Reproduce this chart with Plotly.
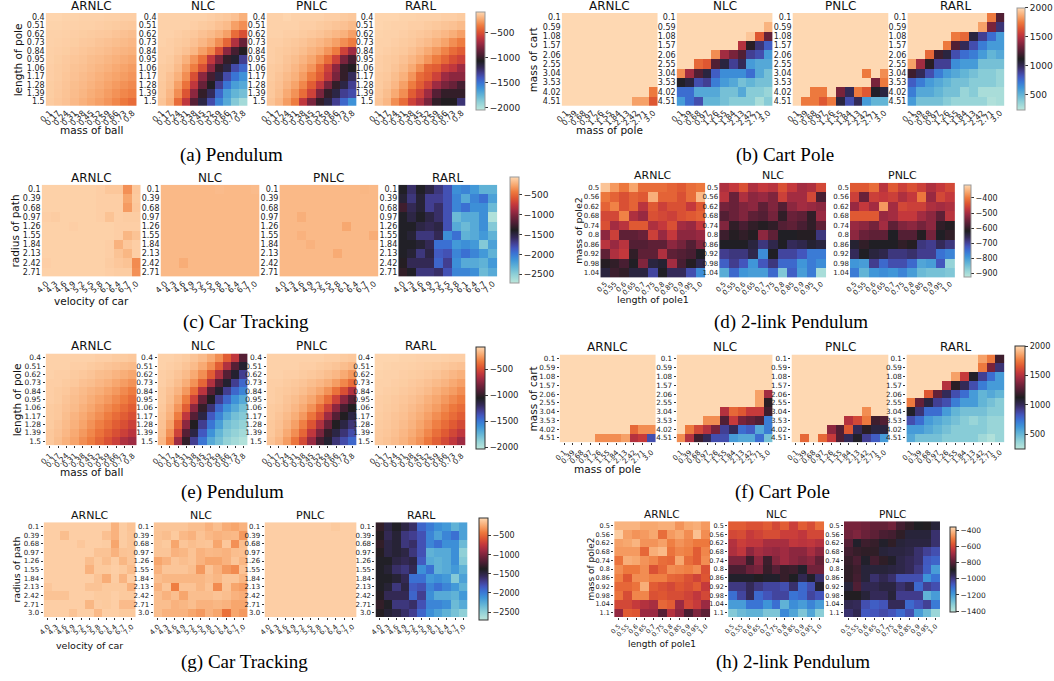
import plotly.graph_objects as go

W, H = 1054, 681

# ---------------- tick labels ----------------
BALL_MASS = ["0.1", "0.17", "0.24", "0.31", "0.38", "0.45", "0.52", "0.59", "0.66", "0.73", "0.8"]
POLE_LEN = ["0.4", "0.51", "0.62", "0.73", "0.84", "0.95", "1.06", "1.17", "1.28", "1.39", "1.5"]
POLE_MASS = ["0.1", "0.39", "0.68", "0.97", "1.26", "1.55", "1.84", "2.13", "2.42", "2.71", "3.0"]
CART_MASS = ["0.1", "0.59", "1.08", "1.57", "2.06", "2.55", "3.04", "3.53", "4.02", "4.51"]
CAR_VEL = ["4.0", "4.3", "4.6", "4.9", "5.2", "5.5", "5.8", "6.1", "6.4", "6.7", "7.0"]
PATH_RAD = ["0.1", "0.39", "0.68", "0.97", "1.26", "1.55", "1.84", "2.13", "2.42", "2.71"]
PATH_RAD_G = PATH_RAD + ["3.0"]
POLE1_LEN = ["0.5", "0.55", "0.6", "0.65", "0.7", "0.75", "0.8", "0.85", "0.9", "0.95", "1.0"]
POLE2_MASS = ["0.5", "0.56", "0.62", "0.68", "0.74", "0.8", "0.86", "0.92", "0.98", "1.04"]
POLE2_MASS_H = POLE2_MASS + ["1.1"]

# ---------------- (a) Pendulum ----------------
A_ARNLC = [
    [-90, -90, -95, -95, -100, -100, -100, -105, -105, -110, -110],
    [-95, -95, -100, -100, -105, -105, -110, -115, -120, -125, -130],
    [-100, -100, -105, -110, -115, -120, -125, -130, -140, -150, -160],
    [-100, -105, -110, -115, -125, -130, -140, -150, -160, -170, -180],
    [-105, -110, -115, -125, -135, -145, -155, -165, -180, -190, -200],
    [-105, -115, -125, -135, -145, -160, -170, -185, -200, -215, -230],
    [-110, -120, -130, -145, -155, -170, -185, -200, -220, -240, -260],
    [-110, -120, -135, -150, -165, -180, -200, -220, -240, -260, -280],
    [-115, -125, -140, -160, -175, -195, -215, -240, -265, -290, -310],
    [-115, -130, -145, -165, -185, -210, -230, -260, -290, -320, -340],
    [-120, -135, -150, -175, -200, -225, -250, -280, -320, -360, -400],
]
A_NLC = [
    [-100, -100, -100, -100, -100, -100, -110, -120, -130, -150, -200],
    [-100, -100, -100, -100, -110, -120, -130, -150, -170, -250, -300],
    [-100, -100, -110, -120, -130, -150, -170, -200, -250, -400, -500],
    [-100, -110, -120, -130, -150, -180, -220, -300, -420, -650, -850],
    [-110, -110, -130, -150, -180, -250, -320, -500, -750, -950, -1050],
    [-110, -120, -150, -200, -280, -380, -600, -800, -1000, -1100, -1300],
    [-120, -130, -170, -250, -350, -500, -750, -1000, -1150, -1350, -1450],
    [-120, -150, -200, -300, -500, -750, -950, -1150, -1350, -1500, -1600],
    [-130, -160, -250, -380, -600, -850, -1050, -1300, -1500, -1650, -1700],
    [-130, -180, -300, -480, -750, -1000, -1200, -1450, -1650, -1750, -1800],
    [-140, -200, -400, -600, -900, -1150, -1350, -1550, -1700, -1850, -1950],
]
A_PNLC = [
    [-100, -100, -90, -100, -100, -100, -100, -110, -110, -120, -130],
    [-100, -100, -100, -100, -110, -110, -120, -130, -140, -150, -170],
    [-100, -100, -110, -110, -120, -130, -140, -160, -180, -200, -250],
    [-110, -110, -120, -130, -140, -160, -180, -210, -250, -300, -350],
    [-110, -120, -130, -140, -160, -190, -220, -280, -350, -550, -700],
    [-110, -120, -140, -160, -190, -230, -300, -400, -550, -800, -950],
    [-120, -130, -150, -180, -220, -280, -400, -550, -750, -1000, -1050],
    [-120, -140, -170, -200, -260, -350, -450, -600, -800, -1000, -1200],
    [-130, -150, -190, -240, -320, -450, -600, -800, -1000, -1150, -1300],
    [-130, -160, -220, -290, -400, -550, -800, -1000, -1150, -1300, -1350],
    [-140, -180, -260, -350, -600, -800, -1000, -1150, -1300, -1450, -1600],
]
A_RARL = [
    [-90, -90, -90, -95, -95, -100, -100, -100, -110, -110, -120],
    [-90, -95, -100, -100, -110, -110, -120, -130, -140, -150, -170],
    [-95, -100, -100, -110, -120, -130, -140, -160, -180, -210, -250],
    [-100, -100, -110, -120, -130, -150, -170, -200, -240, -300, -350],
    [-100, -110, -120, -130, -150, -180, -220, -270, -330, -400, -450],
    [-110, -120, -130, -150, -180, -220, -280, -350, -420, -500, -550],
    [-110, -120, -140, -170, -220, -300, -420, -450, -550, -600, -700],
    [-120, -130, -160, -200, -280, -400, -450, -550, -700, -750, -750],
    [-120, -140, -180, -250, -350, -450, -550, -700, -800, -850, -950],
    [-130, -160, -220, -300, -450, -550, -700, -900, -1000, -1000, -1000],
    [-140, -180, -300, -400, -550, -650, -800, -1000, -1050, -1050, -1250],
]

# ---------------- (b) Cart Pole ----------------
B_ARNLC = [
    [2000] * 11, [2000] * 11, [2000] * 11, [2000] * 11, [2000] * 11,
    [2000] * 11, [2000] * 11, [2000] * 11,
    [2000, 2000, 2000, 2000, 2000, 2000, 2000, 2000, 2000, 2000, 1750],
    [2000, 2000, 2000, 2000, 2000, 2000, 2000, 2000, 1850, 1850, 1650],
]
B_NLC = [
    [2000, 2000, 2000, 2000, 2000, 2000, 2000, 2000, 2000, 2000, 2000],
    [2000, 2000, 2000, 2000, 2000, 2000, 2000, 2000, 2000, 2000, 1900],
    [2000, 2000, 2000, 2000, 2000, 2000, 2000, 2000, 1950, 1650, 1300],
    [2000, 2000, 2000, 2000, 2000, 2000, 2000, 1500, 1150, 950, 800],
    [2000, 2000, 2000, 2000, 1800, 1450, 1350, 1250, 900, 850, 600],
    [2000, 2000, 1700, 1650, 1250, 1050, 900, 1000, 600, 550, 550],
    [1800, 1450, 1250, 1050, 800, 650, 650, 650, 750, 550, 450],
    [1100, 1050, 850, 900, 700, 600, 550, 450, 500, 450, 450],
    [750, 750, 550, 550, 550, 450, 450, 550, 400, 400, 350],
    [600, 750, 850, 500, 500, 450, 400, 400, 400, 300, 400],
]
B_PNLC = [
    [2000] * 11, [2000] * 11, [2000] * 11, [2000] * 11, [2000] * 11, [2000] * 11,
    [2000, 2000, 2000, 2000, 2000, 2000, 2000, 2000, 1750, 2000, 1800],
    [2000, 2000, 2000, 2000, 2000, 2000, 2000, 2000, 2000, 1350, 1750],
    [2000, 2000, 1750, 1750, 2000, 1350, 1000, 1750, 1650, 1100, 1050],
    [2000, 1750, 1750, 1650, 1750, 1050, 850, 1000, 600, 500, 500],
]
B_RARL = [
    [2000, 2000, 2000, 2000, 2000, 2000, 2000, 2000, 2000, 1750, 1250],
    [2000, 2000, 2000, 2000, 2000, 2000, 2000, 2000, 1850, 1350, 950],
    [2000, 2000, 2000, 2000, 2000, 1750, 1700, 1050, 900, 750, 600],
    [2000, 2000, 2000, 2000, 1750, 1250, 1000, 850, 700, 600, 600],
    [2000, 2000, 1700, 1200, 1050, 850, 750, 700, 600, 500, 550],
    [1850, 1450, 1150, 900, 900, 650, 600, 600, 450, 450, 450],
    [1200, 1000, 850, 700, 600, 550, 500, 450, 400, 400, 350],
    [800, 700, 600, 550, 500, 450, 450, 400, 400, 400, 350],
    [700, 550, 550, 500, 450, 450, 350, 400, 300, 300, 300],
    [600, 450, 450, 450, 400, 350, 350, 350, 350, 280, 300],
]

# ---------------- (c) Car Tracking ----------------
C_ARNLC = [
    [-70, -70, -70, -70, -70, -70, -80, -110, -110, -330, -110],
    [-70, -70, -70, -70, -70, -70, -80, -80, -80, -250, -100],
    [-70, -70, -70, -70, -70, -70, -80, -80, -80, -290, -110],
    [-80, -90, -70, -70, -70, -70, -80, -130, -80, -90, -90],
    [-70, -70, -70, -80, -70, -70, -70, -70, -80, -80, -80],
    [-70, -70, -70, -70, -70, -70, -70, -70, -80, -180, -130],
    [-70, -70, -70, -70, -70, -70, -70, -80, -200, -110, -80],
    [-70, -70, -70, -70, -70, -70, -70, -80, -130, -180, -80],
    [-80, -70, -70, -70, -70, -70, -70, -90, -110, -130, -350],
    [-70, -70, -70, -70, -70, -70, -70, -80, -90, -90, -330],
]
C_NLC = [
    [-170, -170, -170, -170, -170, -170, -160, -170, -170, -170, -160],
    [-170, -170, -170, -170, -170, -170, -170, -170, -170, -170, -170],
    [-170, -170, -170, -170, -170, -170, -170, -170, -170, -170, -170],
    [-170, -170, -170, -170, -170, -170, -170, -170, -170, -170, -170],
    [-170, -170, -170, -170, -170, -170, -170, -170, -170, -170, -170],
    [-170, -170, -170, -170, -170, -170, -170, -170, -170, -170, -170],
    [-170, -170, -170, -170, -170, -170, -170, -170, -170, -170, -170],
    [-170, -170, -170, -170, -170, -170, -170, -170, -170, -170, -170],
    [-170, -170, -220, -170, -170, -170, -170, -170, -170, -170, -170],
    [-170, -170, -170, -170, -170, -170, -170, -170, -170, -170, -170],
]
C_PNLC = [
    [-170, -170, -170, -170, -170, -170, -170, -170, -170, -180, -170],
    [-170, -170, -170, -170, -170, -170, -170, -170, -170, -170, -170],
    [-170, -170, -170, -170, -170, -170, -170, -170, -170, -170, -170],
    [-170, -170, -210, -170, -170, -170, -170, -170, -170, -170, -170],
    [-170, -170, -170, -170, -170, -170, -170, -240, -170, -170, -170],
    [-170, -170, -200, -170, -170, -170, -170, -170, -170, -170, -220],
    [-170, -170, -170, -200, -170, -170, -170, -170, -170, -170, -170],
    [-170, -170, -170, -170, -170, -170, -230, -170, -170, -170, -170],
    [-170, -170, -170, -170, -170, -170, -170, -170, -170, -170, -170],
    [-170, -170, -170, -170, -170, -170, -170, -170, -170, -170, -170],
]
C_RARL = [
    [-1400, -1600, -1400, -1500, -1650, -1800, -2100, -2050, -2150, -2300, -2300],
    [-1450, -1650, -1450, -1700, -1700, -1800, -2050, -2250, -2050, -1950, -2200],
    [-1250, -1550, -1450, -1700, -1600, -1800, -2050, -1950, -2100, -2100, -2350],
    [-1400, -1500, -1400, -1500, -1600, -1800, -2350, -2250, -2250, -2100, -2650],
    [-1400, -1400, -1500, -1550, -1500, -1800, -2250, -2350, -2250, -2100, -2450],
    [-1400, -1450, -1650, -1650, -1550, -2100, -1950, -2300, -2250, -2150, -2300],
    [-1400, -1400, -1450, -1550, -1950, -1950, -2150, -2100, -2150, -2450, -2200],
    [-1400, -1450, -1650, -1500, -1850, -1800, -2050, -1950, -2050, -2150, -2300],
    [-1350, -1550, -1550, -1550, -1900, -1700, -2100, -2250, -2250, -2300, -2150],
    [-1300, -1400, -1650, -1650, -1600, -1800, -2050, -2050, -2100, -2350, -2250],
]

# ---------------- (d) 2-link Pendulum ----------------
D_ARNLC = [
    [-330, -370, -400, -360, -410, -410, -410, -420, -430, -410, -400],
    [-400, -420, -440, -420, -430, -350, -420, -420, -440, -410, -340],
    [-420, -390, -440, -420, -480, -430, -460, -440, -440, -470, -430],
    [-450, -450, -390, -490, -510, -440, -450, -460, -440, -430, -420],
    [-440, -500, -480, -430, -430, -490, -470, -440, -500, -510, -470],
    [-520, -460, -560, -560, -550, -460, -510, -470, -520, -520, -510],
    [-480, -510, -480, -570, -570, -560, -560, -520, -540, -570, -530],
    [-560, -490, -470, -600, -560, -560, -490, -560, -570, -580, -620],
    [-610, -600, -580, -620, -530, -640, -630, -500, -580, -610, -650],
    [-640, -590, -600, -640, -640, -700, -620, -660, -660, -710, -780],
]
D_NLC = [
    [-490, -470, -440, -490, -470, -480, -440, -470, -500, -490, -450],
    [-480, -550, -490, -520, -510, -530, -460, -500, -500, -450, -580],
    [-540, -550, -530, -520, -560, -530, -570, -520, -500, -510, -520],
    [-570, -550, -530, -560, -570, -540, -600, -550, -560, -600, -510],
    [-530, -600, -580, -600, -610, -600, -570, -560, -580, -600, -560],
    [-590, -610, -600, -610, -520, -560, -620, -620, -610, -610, -680],
    [-620, -620, -620, -640, -680, -650, -620, -660, -650, -630, -640],
    [-690, -680, -680, -650, -780, -620, -700, -700, -720, -760, -760],
    [-730, -690, -720, -790, -720, -680, -740, -740, -790, -760, -780],
    [-820, -740, -790, -800, -800, -740, -860, -730, -800, -760, -900],
]
D_PNLC = [
    [-430, -430, -410, -480, -430, -460, -440, -460, -490, -470, -450],
    [-460, -550, -460, -470, -460, -490, -470, -400, -510, -450, -470],
    [-510, -470, -500, -370, -500, -450, -460, -460, -490, -500, -490],
    [-430, -430, -430, -510, -500, -470, -470, -500, -520, -560, -480],
    [-510, -520, -540, -500, -560, -530, -520, -540, -520, -600, -610],
    [-520, -550, -560, -560, -620, -570, -570, -610, -540, -620, -600],
    [-630, -600, -620, -620, -620, -600, -610, -680, -690, -660, -680],
    [-660, -620, -640, -650, -680, -680, -670, -690, -690, -750, -770],
    [-790, -800, -690, -740, -710, -710, -740, -810, -800, -720, -880],
    [-760, -830, -790, -780, -790, -770, -800, -840, -850, -850, -860],
]

# ---------------- (e) Pendulum ----------------
E_ARNLC = [
    [-100, -100, -100, -100, -100, -100, -110, -110, -120, -120, -130],
    [-100, -100, -100, -110, -110, -120, -130, -140, -150, -160, -170],
    [-100, -110, -110, -120, -130, -140, -160, -170, -190, -210, -230],
    [-110, -110, -120, -130, -150, -160, -180, -200, -230, -260, -290],
    [-110, -120, -130, -150, -170, -190, -210, -240, -270, -310, -350],
    [-110, -120, -140, -160, -180, -210, -240, -270, -310, -350, -400],
    [-120, -130, -150, -170, -200, -230, -270, -310, -350, -400, -450],
    [-120, -130, -160, -190, -220, -260, -300, -350, -400, -450, -500],
    [-120, -140, -170, -200, -240, -290, -340, -390, -450, -500, -560],
    [-130, -150, -180, -220, -270, -320, -380, -440, -500, -560, -620],
    [-130, -160, -200, -240, -300, -350, -420, -490, -560, -650, -700],
]
E_NLC = [
    [-100, -100, -110, -120, -140, -170, -220, -300, -450, -600, -900],
    [-100, -110, -120, -140, -170, -220, -300, -450, -650, -900, -1100],
    [-110, -120, -140, -170, -220, -300, -450, -650, -900, -1100, -1300],
    [-110, -130, -160, -210, -290, -420, -650, -900, -1100, -1300, -1450],
    [-120, -150, -190, -270, -400, -620, -900, -1100, -1300, -1450, -1550],
    [-120, -160, -230, -350, -550, -850, -1050, -1300, -1450, -1600, -1700],
    [-130, -180, -280, -450, -750, -1000, -1250, -1450, -1600, -1700, -1800],
    [-140, -200, -350, -600, -900, -1150, -1400, -1550, -1700, -1800, -1850],
    [-150, -240, -450, -750, -1050, -1300, -1500, -1650, -1800, -1850, -1900],
    [-160, -290, -550, -900, -1150, -1400, -1600, -1750, -1850, -1900, -1950],
    [-180, -350, -700, -1000, -1300, -1500, -1700, -1800, -1900, -1950, -2000],
]
E_PNLC = [
    [-100, -100, -100, -100, -100, -100, -100, -110, -110, -120, -130],
    [-100, -100, -100, -100, -110, -110, -120, -130, -140, -160, -180],
    [-100, -100, -110, -110, -120, -130, -140, -160, -180, -220, -270],
    [-110, -110, -120, -130, -140, -160, -180, -210, -260, -320, -400],
    [-110, -120, -130, -140, -160, -190, -230, -290, -380, -500, -650],
    [-110, -120, -140, -160, -190, -230, -300, -400, -550, -750, -900],
    [-120, -130, -150, -180, -220, -290, -400, -550, -750, -950, -1050],
    [-120, -140, -170, -210, -270, -370, -500, -700, -900, -1050, -1150],
    [-130, -150, -190, -250, -340, -480, -650, -850, -1050, -1150, -1250],
    [-130, -160, -220, -300, -420, -600, -800, -1000, -1150, -1250, -1350],
    [-140, -180, -260, -370, -520, -720, -950, -1100, -1250, -1350, -1450],
]
E_RARL = [
    [-90, -90, -90, -95, -95, -100, -100, -100, -105, -110, -110],
    [-90, -95, -100, -100, -105, -110, -115, -120, -130, -140, -150],
    [-95, -100, -100, -110, -115, -120, -130, -140, -160, -180, -200],
    [-100, -100, -110, -115, -125, -135, -150, -170, -190, -220, -250],
    [-100, -110, -115, -125, -135, -150, -170, -200, -230, -260, -300],
    [-110, -115, -125, -135, -150, -170, -200, -230, -270, -310, -350],
    [-110, -120, -130, -145, -165, -190, -220, -260, -310, -360, -400],
    [-115, -125, -140, -155, -180, -210, -250, -300, -350, -400, -450],
    [-120, -130, -145, -165, -195, -235, -280, -340, -400, -460, -520],
    [-125, -135, -155, -180, -215, -260, -320, -390, -460, -530, -600],
    [-130, -145, -165, -195, -240, -290, -360, -440, -520, -600, -700],
]

# ---------------- (f) Cart Pole ----------------
F_ARNLC = [
    [2000] * 11, [2000] * 11, [2000] * 11, [2000] * 11, [2000] * 11,
    [2000] * 11, [2000] * 11, [2000] * 11,
    [2000, 2000, 2000, 2000, 2000, 2000, 2000, 2000, 1700, 1800, 1800],
    [2000, 2000, 2000, 2000, 1800, 1800, 1800, 1850, 1500, 1550, 850],
]
F_NLC = [
    [2000] * 11, [2000] * 11, [2000] * 11, [2000] * 11,
    [2000, 2000, 2000, 2000, 2000, 2000, 2000, 2000, 2000, 1850, 1450],
    [2000, 2000, 2000, 2000, 2000, 2000, 2000, 2000, 2000, 1850, 1150],
    [2000, 2000, 2000, 2000, 2000, 1500, 1700, 1650, 1550, 1550, 1200],
    [2000, 2000, 2000, 1800, 1800, 1250, 1550, 1350, 1300, 1250, 700],
    [2000, 1750, 1600, 1500, 1350, 900, 1000, 750, 800, 550, 700],
    [1800, 1500, 1200, 1000, 850, 850, 600, 550, 550, 750, 450],
]
F_PNLC = [
    [2000] * 11, [2000] * 11, [2000] * 11, [2000] * 11, [2000] * 11, [2000] * 11,
    [2000, 2000, 2000, 2000, 2000, 2000, 2000, 2000, 1800, 2000, 2000],
    [2000, 2000, 2000, 2000, 2000, 2000, 1500, 1600, 1750, 1200, 1250],
    [2000, 2000, 2000, 2000, 1400, 1250, 1650, 1000, 1150, 1050, 1050],
    [2000, 1700, 2000, 1700, 1550, 1250, 1000, 1100, 900, 800, 600],
]
F_RARL = [
    [2000, 2000, 2000, 2000, 2000, 2000, 2000, 2000, 1850, 1750, 1200],
    [2000, 2000, 2000, 2000, 2000, 2000, 2000, 2000, 1750, 1350, 950],
    [2000, 2000, 2000, 2000, 2000, 1850, 1550, 1100, 900, 750, 600],
    [2000, 2000, 2000, 2000, 1500, 1150, 1000, 850, 700, 600, 600],
    [2000, 2000, 1650, 1300, 1000, 850, 750, 600, 500, 550, 500],
    [1750, 1300, 1050, 900, 850, 700, 600, 600, 500, 450, 400],
    [1100, 950, 750, 750, 600, 500, 450, 450, 450, 400, 400],
    [850, 750, 600, 550, 500, 450, 400, 350, 400, 350, 350],
    [600, 600, 550, 500, 450, 400, 400, 400, 400, 350, 350],
    [550, 450, 450, 450, 400, 400, 400, 400, 330, 280, 350],
]

# ---------------- (g) Car Tracking ----------------
G_ARNLC = [
    [-80, -80, -80, -80, -80, -80, -80, -80, -200, -90, -130],
    [-80, -80, -150, -80, -80, -80, -80, -140, -200, -90, -120],
    [-80, -80, -80, -80, -110, -80, -80, -90, -250, -90, -120],
    [-80, -80, -80, -80, -80, -80, -130, -130, -200, -130, -120],
    [-80, -80, -80, -80, -80, -150, -100, -150, -90, -180, -120],
    [-80, -80, -80, -80, -80, -200, -100, -100, -80, -100, -150],
    [-80, -80, -80, -80, -80, -80, -130, -220, -90, -190, -80],
    [-110, -80, -80, -80, -80, -130, -130, -100, -100, -100, -200],
    [-130, -130, -130, -80, -80, -80, -100, -100, -80, -100, -100],
    [-80, -80, -80, -80, -80, -180, -90, -100, -80, -160, -160],
    [-80, -80, -80, -130, -80, -80, -170, -80, -80, -100, -100],
]
G_NLC = [
    [-120, -120, -120, -120, -150, -150, -200, -150, -220, -250, -200],
    [-130, -150, -100, -170, -200, -130, -170, -200, -180, -170, -300],
    [-120, -100, -250, -120, -150, -130, -120, -250, -110, -330, -150],
    [-120, -120, -200, -180, -130, -200, -170, -180, -200, -150, -140],
    [-250, -200, -120, -150, -130, -200, -250, -250, -200, -120, -180],
    [-200, -120, -120, -120, -150, -300, -130, -200, -300, -350, -130],
    [-150, -180, -180, -180, -180, -180, -150, -180, -120, -120, -180],
    [-200, -120, -400, -130, -130, -180, -130, -350, -130, -250, -280],
    [-150, -200, -150, -250, -150, -150, -150, -130, -150, -200, -220],
    [-150, -150, -200, -180, -150, -200, -200, -180, -200, -250, -250],
    [-150, -200, -200, -200, -250, -300, -200, -250, -450, -250, -300],
]
G_PNLC = [
    [-80, -80, -80, -80, -80, -80, -80, -80, -100, -80, -80],
    [-80, -80, -80, -80, -80, -80, -80, -80, -80, -80, -80],
    [-80, -80, -80, -80, -80, -80, -80, -80, -80, -80, -80],
    [-80, -80, -80, -80, -80, -80, -80, -80, -80, -80, -80],
    [-80, -80, -80, -80, -80, -80, -80, -80, -80, -80, -80],
    [-80, -80, -80, -80, -80, -80, -80, -80, -80, -80, -80],
    [-80, -80, -80, -80, -80, -80, -80, -80, -80, -80, -80],
    [-80, -80, -80, -80, -80, -80, -80, -80, -80, -80, -80],
    [-80, -80, -80, -80, -80, -80, -80, -80, -80, -80, -80],
    [-80, -80, -80, -80, -80, -80, -80, -80, -80, -80, -80],
    [-80, -80, -80, -80, -80, -80, -80, -80, -80, -80, -80],
]
G_RARL = [
    [-1300, -1500, -1400, -1500, -1600, -1900, -2000, -2100, -2150, -2300, -2200],
    [-1350, -1550, -1450, -1650, -1700, -1800, -2050, -2200, -2050, -1950, -2200],
    [-1300, -1500, -1450, -1650, -1600, -1800, -2050, -1950, -2100, -2100, -2350],
    [-1350, -1500, -1450, -1500, -1650, -1800, -2300, -2250, -2250, -2100, -2500],
    [-1400, -1400, -1500, -1550, -1500, -1850, -2250, -2300, -2250, -2100, -2450],
    [-1400, -1450, -1600, -1650, -1550, -2100, -1950, -2300, -2250, -2150, -2300],
    [-1400, -1400, -1450, -1550, -1950, -1950, -2150, -2100, -2150, -2450, -2200],
    [-1400, -1450, -1650, -1500, -1850, -1800, -2050, -1950, -2050, -2150, -2300],
    [-1350, -1550, -1550, -1550, -1900, -1700, -2100, -2250, -2250, -2300, -2150],
    [-1300, -1400, -1650, -1650, -1600, -1800, -2050, -2050, -2100, -2350, -2250],
    [-1350, -1450, -1500, -1600, -1700, -1900, -2100, -2200, -2300, -2400, -2500],
]

# ---------------- (h) 2-link Pendulum ----------------
H_ARNLC = [
    [-420, -420, -420, -440, -440, -430, -430, -470, -440, -430, -460],
    [-380, -450, -470, -460, -440, -530, -460, -440, -480, -400, -480],
    [-450, -440, -420, -470, -470, -450, -500, -470, -490, -510, -510],
    [-460, -460, -460, -540, -430, -410, -520, -490, -500, -560, -490],
    [-520, -430, -440, -470, -490, -530, -540, -440, -530, -560, -480],
    [-480, -510, -510, -480, -580, -540, -480, -490, -500, -480, -580],
    [-500, -570, -480, -480, -500, -500, -540, -550, -580, -610, -570],
    [-540, -540, -520, -430, -560, -580, -600, -570, -590, -560, -630],
    [-520, -590, -490, -490, -580, -570, -590, -590, -610, -640, -600],
    [-600, -600, -630, -660, -680, -540, -560, -700, -600, -630, -700],
    [-710, -560, -570, -700, -700, -800, -660, -720, -820, -740, -790],
]
H_NLC = [
    [-560, -560, -580, -580, -560, -600, -560, -620, -560, -590, -530],
    [-600, -590, -630, -610, -590, -590, -620, -620, -640, -600, -600],
    [-660, -620, -640, -640, -680, -680, -680, -640, -650, -640, -660],
    [-670, -640, -720, -680, -700, -710, -690, -720, -720, -680, -720],
    [-740, -740, -840, -720, -840, -730, -690, -720, -740, -720, -780],
    [-820, -820, -770, -750, -850, -800, -850, -840, -900, -760, -760],
    [-900, -900, -900, -880, -900, -900, -850, -890, -950, -900, -980],
    [-1000, -1000, -960, -1000, -1030, -1030, -1050, -980, -1100, -1050, -910],
    [-1110, -1030, -960, -1100, -1060, -1030, -1030, -1120, -1100, -1030, -1060],
    [-1200, -1200, -1120, -1120, -1180, -1110, -1250, -1170, -1200, -1150, -1200],
    [-1310, -1270, -1250, -1250, -1300, -1300, -1160, -1220, -1300, -1220, -1320],
]
H_PNLC = [
    [-750, -750, -760, -780, -780, -760, -830, -860, -890, -880, -920],
    [-760, -740, -770, -790, -820, -830, -860, -920, -920, -920, -980],
    [-800, -900, -840, -850, -900, -860, -920, -930, -930, -930, -980],
    [-830, -850, -860, -860, -920, -930, -930, -940, -980, -1020, -1050],
    [-850, -820, -900, -830, -860, -900, -940, -960, -980, -1070, -1090],
    [-860, -840, -920, -920, -920, -930, -940, -960, -1000, -1080, -1200],
    [-860, -830, -920, -980, -950, -980, -1050, -1050, -1050, -1180, -1120],
    [-920, -810, -950, -950, -930, -930, -980, -950, -1100, -1020, -1050],
    [-880, -880, -920, -960, -960, -920, -1010, -1010, -1010, -1250, -1200],
    [-950, -960, -1050, -1080, -1060, -960, -960, -1100, -1060, -1020, -1130],
    [-980, -950, -1070, -1060, -1040, -1060, -1100, -1050, -1200, -1270, -1350],
]

# ---------------- icefire-like colour scale ----------------
ICEFIRE = [
    [0.00, "rgb(189,231,219)"], [0.08, "rgb(143,208,215)"], [0.15, "rgb(98,180,214)"],
    [0.22, "rgb(62,148,216)"], [0.28, "rgb(58,115,212)"], [0.33, "rgb(67,86,190)"],
    [0.38, "rgb(66,61,142)"], [0.43, "rgb(52,42,88)"], [0.50, "rgb(30,30,32)"],
    [0.56, "rgb(72,30,50)"], [0.62, "rgb(112,34,58)"], [0.68, "rgb(156,42,66)"],
    [0.74, "rgb(196,56,60)"], [0.80, "rgb(222,86,50)"], [0.86, "rgb(238,122,62)"],
    [0.92, "rgb(247,165,108)"], [1.00, "rgb(254,216,178)"],
]

# ---------------- panel definitions (layout in pixels) ----------------
PANELS = [
    dict(caption="(a) Pendulum", cap=(227, 155),
         names=["ARNLC", "NLC", "PNLC", "RARL"], data=[A_ARNLC, A_NLC, A_PNLC, A_RARL],
         xt=BALL_MASS, yt=POLE_LEN, xl="mass of ball", yl="length of pole",
         boxes=[(39, 131), (152, 243), (262, 353), (371, 463)], yb=(13, 106), ylx=12, xly=130,
         zr=(-2040, -80), cbt=[-500, -1000, -1500, -2000], cb=(473, 482, 12, 110), cbo="#999999",
         ticks=False, fs=8, tfs=12),
    dict(caption="(b) Cart Pole", cap=(785, 155),
         names=["ARNLC", "NLC", "PNLC", "RARL"], data=[B_ARNLC, B_NLC, B_PNLC, B_RARL],
         xt=POLE_MASS, yt=CART_MASS, xl="mass of pole", yl="mass of cart",
         boxes=[(560, 657), (676, 773), (793, 890), (909, 1007)], yb=(13, 106), ylx=531, xly=130,
         zr=(240, 2000), cbt=[500, 1000, 1500, 2000], cb=(1020, 1028, 8, 110), cbo="#999999",
         ticks=False, fs=8, tfs=12),
    dict(caption="(c) Car Tracking", cap=(241, 322),
         names=["ARNLC", "NLC", "PNLC", "RARL"], data=[C_ARNLC, C_NLC, C_PNLC, C_RARL],
         xt=CAR_VEL, yt=PATH_RAD, xl="velocity of car", yl="radius of path",
         boxes=[(35, 135), (155, 255), (275, 375), (395, 495)], yb=(185, 277), ylx=8, xly=301,
         zr=(-2710, -40), cbt=[-500, -1000, -1500, -2000, -2500], cb=(508, 517, 177, 283), cbo="#999999",
         ticks=False, fs=8, tfs=12),
    dict(caption="(d) 2-link Pendulum", cap=(792, 322),
         names=["ARNLC", "NLC", "PNLC"], data=[D_ARNLC, D_NLC, D_PNLC],
         xt=POLE1_LEN, yt=POLE2_MASS, xl="length of pole1", yl="mass of pole2",
         boxes=[(599, 705), (719, 827), (851, 957)], yb=(183, 278), ylx=577, xly=300,
         zr=(-922, -311), cbt=[-400, -500, -600, -700, -800, -900], cb=(966, 973, 185, 277), cbo="#999999",
         ticks=False, fs=7, tfs=11),
    dict(caption="(e) Pendulum", cap=(228, 493),
         names=["ARNLC", "NLC", "PNLC", "RARL"], data=[E_ARNLC, E_NLC, E_PNLC, E_RARL],
         xt=BALL_MASS, yt=POLE_LEN, xl="mass of ball", yl="length of pole",
         boxes=[(39, 131), (152, 243), (262, 353), (371, 463)], yb=(354, 446), ylx=11, xly=473,
         zr=(-2040, -80), cbt=[-500, -1000, -1500, -2000], cb=(473, 482, 348, 450), cbo="#333333",
         ticks=True, fs=7.5, tfs=12),
    dict(caption="(f) Cart Pole", cap=(783, 493),
         names=["ARNLC", "NLC", "PNLC", "RARL"], data=[F_ARNLC, F_NLC, F_PNLC, F_RARL],
         xt=POLE_MASS, yt=CART_MASS, xl="mass of pole", yl="mass of cart",
         boxes=[(558, 655), (676, 773), (792, 890), (908, 1007)], yb=(355, 443), ylx=531, xly=470,
         zr=(240, 2000), cbt=[500, 1000, 1500, 2000], cb=(1018, 1028, 347, 450), cbo="#333333",
         ticks=True, fs=7.2, tfs=12),
    dict(caption="(g) Car Tracking", cap=(240, 663),
         names=["ARNLC", "NLC", "PNLC", "RARL"], data=[G_ARNLC, G_NLC, G_PNLC, G_RARL],
         xt=CAR_VEL, yt=PATH_RAD_G, xl="velocity of car", yl="radius of path",
         boxes=[(37, 130), (148, 243), (260, 353), (372, 465)], yb=(523, 618), ylx=10, xly=646,
         zr=(-2710, -40), cbt=[-500, -1000, -1500, -2000, -2500], cb=(477, 486, 519, 621), cbo="#333333",
         ticks=True, fs=7, tfs=11),
    dict(caption="(h) 2-link Pendulum", cap=(794, 663),
         names=["ARNLC", "NLC", "PNLC"], data=[H_ARNLC, H_NLC, H_PNLC],
         xt=POLE1_LEN, yt=POLE2_MASS_H, xl="length of pole1", yl="mass of pole2",
         boxes=[(613, 710), (728, 825), (845, 942)], yb=(522, 618), ylx=590, xly=645,
         zr=(-1412, -360), cbt=[-400, -600, -800, -1000, -1200, -1400], cb=(952, 958, 528, 613), cbo="#333333",
         ticks=True, fs=6.5, tfs=10.5),
]

FONT = "DejaVu Sans"
fig = go.Figure()
layout = dict(width=W, height=H, margin=dict(l=0, r=0, t=0, b=0),
              paper_bgcolor="white", plot_bgcolor="white", showlegend=False)
annotations = []


def fx(p):
    return p / W


def fy(p):
    return 1 - p / H


ai = 0
for pi, P in enumerate(PANELS):
    cak = "coloraxis" if pi == 0 else "coloraxis%d" % (pi + 1)
    cx0, cx1, cy0, cy1 = P["cb"]
    layout[cak] = dict(
        colorscale=ICEFIRE, cmin=P["zr"][0], cmax=P["zr"][1],
        colorbar=dict(x=fx(cx0), xanchor="left", y=fy(cy1), yanchor="bottom",
                      len=(cy1 - cy0) / H, lenmode="fraction",
                      thickness=cx1 - cx0, thicknessmode="pixels",
                      outlinewidth=1, outlinecolor=P["cbo"],
                      tickmode="array", tickvals=P["cbt"], ticks="outside", ticklen=3, tickwidth=1,
                      tickcolor="#333333",
                      tickfont=dict(family=FONT, size=P["fs"] + 1, color="#222222"),
                      xpad=0, ypad=0),
    )
    y0, y1 = P["yb"]
    for hi, (name, z) in enumerate(zip(P["names"], P["data"])):
        ai += 1
        xa = "x" if ai == 1 else "x%d" % ai
        ya = "y" if ai == 1 else "y%d" % ai
        x0, x1 = P["boxes"][hi]
        fig.add_trace(go.Heatmap(z=z, x=P["xt"], y=P["yt"], coloraxis=cak,
                                 xaxis=xa, yaxis=ya, xgap=0, ygap=0,
                                 hoverinfo="skip"))
        tick_kw = dict(ticks="outside", ticklen=2, tickwidth=0.8, tickcolor="#333333") if P["ticks"] else dict(ticks="")
        layout["xaxis" if ai == 1 else "xaxis%d" % ai] = dict(
            domain=[fx(x0), fx(x1)], anchor=ya, type="category", tickangle=-45,
            tickmode="array", tickvals=P["xt"], ticktext=P["xt"],
            showgrid=False, zeroline=False, showline=False,
            tickfont=dict(family=FONT, size=P["fs"], color="#222222"), **tick_kw)
        layout["yaxis" if ai == 1 else "yaxis%d" % ai] = dict(
            domain=[fy(y1), fy(y0)], anchor=xa, type="category", autorange="reversed",
            tickmode="array", tickvals=P["yt"], ticktext=P["yt"],
            showgrid=False, zeroline=False, showline=False,
            tickfont=dict(family=FONT, size=P["fs"], color="#222222"), **tick_kw)
        annotations.append(dict(text=name, x=fx((x0 + x1) / 2), y=fy(y0 - 7),
                                xref="paper", yref="paper", xanchor="center", yanchor="middle",
                                showarrow=False, borderpad=0,
                                font=dict(family=FONT, size=P["tfs"], color="#111111")))
    # axis labels on first heatmap of each panel
    bx0, bx1 = P["boxes"][0]
    annotations.append(dict(text=P["yl"], x=fx(P["ylx"]), y=fy((y0 + y1) / 2),
                            xref="paper", yref="paper", xanchor="center", yanchor="middle",
                            textangle=-90, showarrow=False, borderpad=0,
                            font=dict(family=FONT, size=P["tfs"] - 1.5, color="#111111")))
    annotations.append(dict(text=P["xl"], x=fx((bx0 + bx1) / 2), y=fy(P["xly"]),
                            xref="paper", yref="paper", xanchor="center", yanchor="middle",
                            showarrow=False, borderpad=0,
                            font=dict(family=FONT, size=P["tfs"] - 1.5, color="#111111")))
    annotations.append(dict(text=P["caption"], x=fx(P["cap"][0]), y=fy(P["cap"][1]),
                            xref="paper", yref="paper", xanchor="center", yanchor="middle",
                            showarrow=False,
                            font=dict(family="Liberation Serif", size=19, color="#000000")))

layout["annotations"] = annotations
fig.update_layout(**layout)
fig.write_html("out.html")
